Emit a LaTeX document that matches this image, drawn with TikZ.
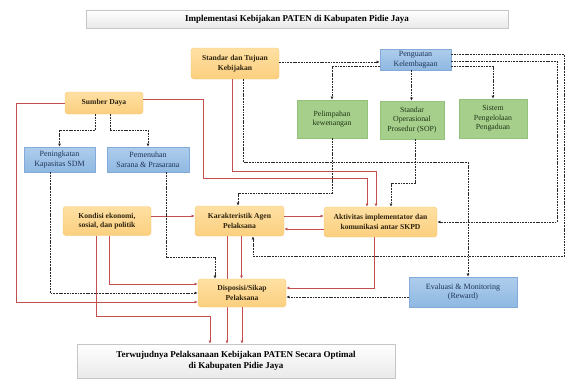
\documentclass[tikz,border=0pt]{standalone}
\usepackage{fontspec}
\setmainfont{Liberation Serif}
\usetikzlibrary{arrows.meta,backgrounds}

\definecolor{orangefill}{HTML}{FBCF7F}
\definecolor{orangetop}{HTML}{FFE0A3}
\definecolor{orangeline}{HTML}{F7C66E}
\definecolor{orangetext}{HTML}{2E2410}
\definecolor{bluefill}{HTML}{8FB8E2}
\definecolor{bluetop}{HTML}{AECDEC}
\definecolor{blueline}{HTML}{82ABDA}
\definecolor{bluetext}{HTML}{1E3456}
\definecolor{greenfill}{HTML}{A6CF8C}
\definecolor{greenline}{HTML}{92C27B}
\definecolor{greentext}{HTML}{1F3515}
\definecolor{grayfill}{HTML}{E9E9E9}
\definecolor{grayline}{HTML}{C6C6C6}
\definecolor{redline}{HTML}{C0504D}
\definecolor{dashline}{HTML}{2A2A2A}

\begin{document}
\begin{tikzpicture}[x=1pt,y=-1pt]
  \useasboundingbox (0,0) rectangle (565,378);
  \begin{scope}[
    every node/.style={align=center,inner sep=1pt},
    factor/.style={draw=orangeline,rounded corners=3pt,top color=orangetop,bottom color=orangefill,
      text=orangetext,font=\fontsize{7.6}{9.4}\selectfont\bfseries},
    program/.style={draw=blueline,top color=bluetop,bottom color=bluefill,
      text=bluetext,font=\fontsize{8}{9.6}\selectfont},
    measure/.style={draw=greenline,fill=greenfill,text=greentext,font=\fontsize{7.8}{9.6}\selectfont},
    banner/.style={draw=grayline,top color=white,bottom color=grayfill,font=\fontsize{9}{11.5}\selectfont\bfseries},
    ]
    \node[banner,minimum width=422pt,minimum height=18pt] (judul) at (297,19)
      {Implementasi Kebijakan PATEN di Kabupaten Pidie Jaya};
    \node[factor,minimum width=88pt,minimum height=31pt] (standar) at (235,63.5)
      {Standar dan Tujuan\\Kebijakan};
    \node[program,minimum width=71pt,minimum height=21pt] (lembaga) at (415.5,59.5)
      {Penguatan\\Kelembagaan};
    \node[factor,minimum width=78pt,minimum height=22pt] (sumber) at (104,103) {Sumber Daya};
    \node[measure,minimum width=70pt,minimum height=38pt] (wewenang) at (332,119)
      {Pelimpahan\\kewenangan};
    \node[measure,minimum width=64pt,minimum height=38pt] (sop) at (412,120)
      {Standar\\Operasional\\Prosedur (SOP)};
    \node[measure,minimum width=68pt,minimum height=39pt] (aduan) at (493,118.5)
      {Sistem\\Pengelolaan\\Pengaduan};
    \node[program,minimum width=71pt,minimum height=25pt] (sdm) at (59.5,159.5)
      {Peningkatan\\Kapasitas SDM};
    \node[program,minimum width=82pt,minimum height=25pt] (sarana) at (148,159.5)
      {Pemenuhan\\Sarana \& Prasarana};
    \node[factor,minimum width=88pt,minimum height=29pt] (kondisi) at (107,221)
      {Kondisi ekonomi,\\sosial, dan politik};
    \node[factor,minimum width=89pt,minimum height=30pt] (agen) at (239.5,221)
      {Karakteristik Agen\\Pelaksana};
    \node[factor,minimum width=113pt,minimum height=30pt] (aktivitas) at (380.5,222)
      {Aktivitas implementator dan\\komunikasi antar SKPD};
    \node[factor,minimum width=88pt,minimum height=28pt] (disposisi) at (242,293)
      {Disposisi/Sikap\\Pelaksana};
    \node[program,minimum width=108pt,minimum height=30pt] (evaluasi) at (463,292)
      {Evaluasi \& Monitoring\\(Reward)};
    \node[banner,minimum width=318pt,minimum height=34pt] (hasil) at (236,361)
      {Terwujudnya Pelaksanaan Kebijakan PATEN Secara Optimal\\di Kabupaten Pidie Jaya};
  \end{scope}
  \begin{scope}[
    red link/.style={draw=redline,line width=1pt,-{Latex[length=3.2pt,width=3pt]}},
    dash link/.style={draw=dashline,line width=0.9pt,dash pattern=on 1.8pt off 0.9pt,
      -{Latex[length=3.2pt,width=3pt]}},
    ]
    % garis merah
    \path[red link] ([yshift=4pt]sumber.east) -| ++(60,79) -| ([xshift=-13.5pt]aktivitas.north);
    \path[red link] ([xshift=-3pt]standar.south) -- ++(0,92) -| ([xshift=-4.5pt]aktivitas.north);
    \path[red link] (sumber.west) -| ++(-48,199) -- ([yshift=-9pt]disposisi.west);
    \path[red link] ([yshift=5pt]kondisi.east) -- ([yshift=5pt]kondisi.east -| agen.west);
    \path[red link] ([yshift=5pt]agen.east) -- ([yshift=5pt]agen.east -| aktivitas.west);
    \path[red link] ([yshift=-7pt]aktivitas.west) -- ([yshift=-7pt]aktivitas.west -| agen.east);
    \path[red link] ([xshift=2pt]kondisi.south) |- ([yshift=9pt]disposisi.west);
    \path[red link] ([xshift=-11pt]kondisi.south) -- ++(0,80.5) -| ([xshift=-26pt]hasil.north);
    \begin{scope}[on background layer]
      \path[red link] ([xshift=-12.5pt]agen.south) -- ([xshift=-12.5pt]agen.south |- hasil.north);
    \end{scope}
    \path[red link] ([xshift=2pt]agen.south) -- ([xshift=2pt]agen.south |- disposisi.north);
    \path[red link] (disposisi.south) -- (disposisi.south |- hasil.north);
    \path[red link] ([xshift=-6.5pt]aktivitas.south) |- ([yshift=5pt]disposisi.east);
    % garis putus-putus
    \path[dash link] ([yshift=1.5pt]standar.east) -- ([yshift=1.5pt]standar.east -| lembaga.west);
    \path[dash link] ([yshift=-7pt]lembaga.west) -| (wewenang.north);
    \path[dash link] ([xshift=-4pt]lembaga.south) -- ([xshift=-4pt]lembaga.south |- sop.north);
    \path[dash link] ([yshift=-7pt]lembaga.east) -| (aduan.north);
    \path[dash link] ([yshift=-2pt]lembaga.east) -- ++(106,0) |- (aktivitas.east);
    \path[dash link] ([yshift=5pt]lembaga.east) -- ++(113,0) -- ++(0,201.5) -| ([xshift=13.5pt]agen.south);
    \path[dash link] ([xshift=8pt]standar.south) -- ++(0,83) -| ([xshift=5pt]evaluasi.north);
    \path[dash link] (wewenang.south) -- ++(0,55) -| ([xshift=-1.5pt]agen.north);
    \path[dash link] ([xshift=3pt]sop.south) -- ++(0,44) -| ([xshift=10.5pt]aktivitas.north);
    \path[dash link] ([xshift=-9pt]sumber.south) -- ++(0,16) -| (sdm.north);
    \path[dash link] ([xshift=6pt]sumber.south) -- ++(0,16) -| (sarana.north);
    \path[dash link] ([xshift=-9.5pt]sdm.south) |- (disposisi.west);
    \path[dash link] ([xshift=18pt]sarana.south) -- ++(0,85) -| ([xshift=-27pt]disposisi.north);
    \path[dash link] ([yshift=-5pt]evaluasi.west) -- ([yshift=-5pt]evaluasi.west -| disposisi.east);
  \end{scope}
\end{tikzpicture}
\end{document}
